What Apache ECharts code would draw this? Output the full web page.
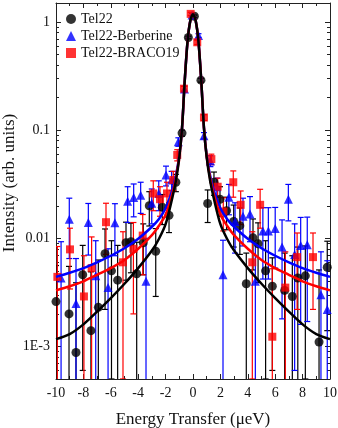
<!DOCTYPE html>
<html>
<head>
<meta charset="utf-8">
<script src="https://cdn.jsdelivr.net/npm/echarts@6/dist/echarts.min.js"></script>
<style>
  html, body { margin: 0; padding: 0; background: #fff; }
  #chart { width: 338px; height: 428px; }
</style>
</head>
<body>
<div id="chart"></div>
<script>
// Tel22 (black circles)
var tel22X = [-10.0, -9.05, -8.54, -8.05, -7.45, -6.91, -6.42, -5.95, -5.50, -4.89, -4.53, -4.11, -3.63, -3.19, -2.72, -2.24, -1.75, -1.25, -0.80, -0.34, 0.10, 0.58, 1.07, 1.53, 1.97, 2.45, 2.97, 3.42, 3.89, 4.38, 4.75, 5.30, 5.79, 6.69, 7.25, 7.65, 8.20, 9.20, 9.80];
var tel22Y = [0.0026, 0.0020, 0.00088, 0.0046, 0.0014, 0.0023, 0.0072, 0.0050, 0.0041, 0.0091, 0.0093, 0.0047, 0.0091, 0.020, 0.0076, 0.0194, 0.0163, 0.033, 0.094, 0.72, 1.13, 0.29, 0.021, 0.033, 0.023, 0.018, 0.0143, 0.0131, 0.0038, 0.0101, 0.0089, 0.0050, 0.0036, 0.0033, 0.0029, 0.0043, 0.0045, 0.0011, 0.0054];
var tel22Err = [0.0030, 0.0035, 0.0030, 0.0040, 0.0035, 0.0040, 0.0050, 0.0045, 0.0045, 0.0050, 0.0045, 0.0045, 0.0045, 0.0070, 0.0047, 0.0060, 0.0050, 0.0060, 0.0060, 0.020, 0.030, 0.012, 0.0070, 0.0080, 0.0070, 0.0060, 0.0060, 0.0060, 0.0035, 0.0050, 0.0050, 0.0045, 0.0030, 0.0040, 0.0040, 0.0040, 0.0040, 0.0040, 0.0040];

// Tel22-Berberine (blue triangles)
var berX = [-9.63, -9.03, -8.54, -7.64, -7.10, -6.20, -5.70, -4.77, -4.33, -3.82, -3.43, -3.01, -2.50, -1.97, -1.56, -1.07, -0.62, -0.07, 0.40, 0.80, 1.27, 1.74, 2.19, 2.62, 3.07, 3.65, 4.16, 4.55, 5.10, 5.50, 6.00, 6.50, 6.96, 7.42, 7.86, 8.34, 9.34, 9.80];
var berY = [0.0043, 0.015, 0.0025, 0.014, 0.0045, 0.0035, 0.0139, 0.0220, 0.0238, 0.0250, 0.0040, 0.0211, 0.026, 0.0385, 0.0346, 0.078, 0.24, 1.16, 0.75, 0.089, 0.052, 0.030, 0.0046, 0.024, 0.0143, 0.016, 0.0168, 0.0040, 0.0117, 0.0117, 0.0123, 0.0083, 0.023, 0.0071, 0.0086, 0.0087, 0.0030, 0.0022];
var berErr = [0.0050, 0.0085, 0.0040, 0.0070, 0.0050, 0.0045, 0.0070, 0.0080, 0.0080, 0.0080, 0.0060, 0.0075, 0.0080, 0.0080, 0.0070, 0.0070, 0.015, 0.04, 0.03, 0.006, 0.0060, 0.0060, 0.0050, 0.0075, 0.0070, 0.0075, 0.0075, 0.0050, 0.0075, 0.0075, 0.0070, 0.0065, 0.0085, 0.0065, 0.0070, 0.0070, 0.0045, 0.0040];

// Tel22-BRACO19 (red squares)
var braX = [-9.90, -8.98, -7.96, -7.40, -6.35, -5.11, -4.35, -3.67, -2.90, -2.41, -1.90, -1.44, -1.15, -0.66, -0.17, 0.31, 0.80, 1.34, 1.80, 2.21, 2.94, 3.48, 4.33, 4.90, 5.79, 6.74, 7.60, 8.76];
var braY = [0.0044, 0.0079, 0.0029, 0.0053, 0.0141, 0.0060, 0.0080, 0.0106, 0.026, 0.023, 0.026, 0.0346, 0.059, 0.242, 1.19, 0.65, 0.131, 0.054, 0.030, 0.0177, 0.033, 0.0204, 0.0060, 0.0204, 0.00123, 0.0035, 0.0067, 0.0067];
var braErr = [0.0040, 0.0045, 0.0040, 0.0050, 0.0070, 0.0055, 0.0060, 0.0060, 0.0080, 0.0070, 0.0070, 0.0070, 0.0070, 0.012, 0.04, 0.03, 0.008, 0.0060, 0.0060, 0.0060, 0.0090, 0.0070, 0.0055, 0.0080, 0.0040, 0.0040, 0.0045, 0.0045];

// fitted curves
var fitX = [-10, -9, -8, -7, -6, -5, -4, -3, -2.5, -2, -1.5, -1.25, -1, -0.8, -0.6, -0.4, -0.2, 0, 0.2, 0.4, 0.6, 0.8, 1, 1.25, 1.5, 2, 2.5, 3, 4, 5, 6, 7, 8, 9, 10];
var fitTel22 = [0.00117, 0.0013, 0.0016, 0.0021, 0.0028, 0.0038, 0.0053, 0.0077, 0.0098, 0.0135, 0.024, 0.034, 0.056, 0.105, 0.29, 0.66, 1.02, 1.18, 1.02, 0.66, 0.29, 0.105, 0.056, 0.034, 0.024, 0.0135, 0.0098, 0.0077, 0.0053, 0.0038, 0.0028, 0.0021, 0.0016, 0.0013, 0.00117];
var fitBer = [0.0044, 0.0048, 0.0053, 0.0060, 0.0069, 0.0081, 0.0099, 0.0128, 0.015, 0.019, 0.028, 0.038, 0.058, 0.105, 0.29, 0.66, 1.02, 1.18, 1.02, 0.66, 0.29, 0.105, 0.058, 0.038, 0.028, 0.019, 0.015, 0.0128, 0.0099, 0.0081, 0.0069, 0.0060, 0.0053, 0.0048, 0.0044];
var fitBra = [0.0033, 0.0036, 0.0040, 0.0046, 0.0053, 0.0063, 0.0080, 0.0107, 0.013, 0.0165, 0.026, 0.036, 0.057, 0.105, 0.29, 0.66, 1.02, 1.18, 1.02, 0.66, 0.29, 0.105, 0.057, 0.036, 0.026, 0.0165, 0.013, 0.0107, 0.0080, 0.0063, 0.0053, 0.0046, 0.0040, 0.0036, 0.0033];

var xTicks = { min: -10, max: 10, interval: 2 };
var yRange = { min: 0.0005, max: 1.5 };

var FONT = '"Liberation Serif", "DejaVu Serif", serif';
var FRAME = '#222';

function pairs(xs, ys) {
    return xs.map(function (x, i) { return [x, ys[i]]; });
}

function errorBars(xs, ys, es, color) {
    return {
        type: 'custom',
        clip: true,
        z: 2,
        silent: true,
        data: xs.map(function (x, i) {
            return [x, ys[i], Math.max(ys[i] - es[i], 1e-6), ys[i] + es[i]];
        }),
        encode: { x: 0, y: [1, 2, 3] },
        renderItem: function (params, api) {
            var top = api.coord([api.value(0), api.value(3)]);
            var bot = api.coord([api.value(0), api.value(2)]);
            var w = 3;
            var st = { stroke: color, lineWidth: 1.2 };
            return {
                type: 'group',
                children: [
                    { type: 'line', shape: { x1: top[0], y1: top[1], x2: bot[0], y2: bot[1] }, style: st },
                    { type: 'line', shape: { x1: top[0] - w, y1: top[1], x2: top[0] + w, y2: top[1] }, style: st },
                    { type: 'line', shape: { x1: bot[0] - w, y1: bot[1], x2: bot[0] + w, y2: bot[1] }, style: st }
                ]
            };
        }
    };
}

function yLabel(v) {
    var p = Math.round(Math.log10(v));
    if (Math.abs(Math.log10(v) - p) > 1e-6) return '';
    if (p === 0) return '1';
    if (p === -1) return '0.1';
    if (p === -2) return '0.01';
    return '1E' + p;
}

function frameAxis(extra) {
    var base = {
        axisLine: { show: true, onZero: false, lineStyle: { color: FRAME, width: 1 } },
        axisTick: { show: true, inside: true, length: 5, lineStyle: { color: FRAME } },
        minorTick: { show: true, splitNumber: 2, length: 3, lineStyle: { color: FRAME } },
        splitLine: { show: false },
        nameMoveOverlap: false
    };
    return Object.assign(base, extra);
}

var myChart = echarts.init(document.getElementById('chart'));
var option = {
    animation: false,
    backgroundColor: '#fff',
    textStyle: { fontFamily: FONT },
    grid: { left: 56, right: 8, top: 3, bottom: 49, show: false, outerBoundsMode: 'none' },
    legend: {
        orient: 'vertical',
        left: 61,
        top: 7,
        itemWidth: 10,
        itemHeight: 10,
        itemGap: 3,
        textStyle: { fontFamily: FONT, fontSize: 14, color: '#111' },
        data: [
            { name: 'Tel22', icon: 'circle' },
            { name: 'Tel22-Berberine', icon: 'triangle' },
            { name: 'Tel22-BRACO19', icon: 'rect' }
        ]
    },
    xAxis: [frameAxis({
        type: 'value',
        min: xTicks.min, max: xTicks.max, interval: xTicks.interval,
        name: 'Energy Transfer (\u03bceV)',
        nameLocation: 'middle',
        nameGap: 32,
        nameTextStyle: { fontFamily: FONT, fontSize: 17, color: '#111' },
        axisLabel: { fontFamily: FONT, fontSize: 14, color: '#111', margin: 7 }
    }), frameAxis({
        type: 'value',
        position: 'top',
        min: xTicks.min, max: xTicks.max, interval: xTicks.interval,
        axisLabel: { show: false }
    })],
    yAxis: [frameAxis({
        type: 'log',
        logBase: 10,
        min: yRange.min, max: yRange.max,
        name: 'Intensity (arb. units)',
        nameLocation: 'middle',
        nameGap: 38,
        nameTextStyle: { fontFamily: FONT, fontSize: 17, color: '#111', padding: [0, 0, 0, 16] },
        minorTick: { show: true, splitNumber: 9, length: 3, lineStyle: { color: FRAME } },
        axisLabel: { fontFamily: FONT, fontSize: 14, color: '#111', margin: 6, showMinLabel: false, showMaxLabel: false, formatter: yLabel }
    }), frameAxis({
        type: 'log',
        logBase: 10,
        position: 'right',
        min: yRange.min, max: yRange.max,
        minorTick: { show: true, splitNumber: 9, length: 3, lineStyle: { color: FRAME } },
        axisLabel: { show: false }
    })],
    series: [
        errorBars(tel22X, tel22Y, tel22Err, '#000'),
        errorBars(berX, berY, berErr, '#0000ff'),
        errorBars(braX, braY, braErr, '#ff0000'),
        {
            name: 'Tel22', type: 'scatter', symbol: 'circle', symbolSize: 9, z: 3,
            itemStyle: { color: '#000' }, data: pairs(tel22X, tel22Y)
        },
        {
            name: 'Tel22-Berberine', type: 'scatter', symbol: 'triangle', symbolSize: 9, z: 3,
            itemStyle: { color: '#0000ff' }, data: pairs(berX, berY)
        },
        {
            name: 'Tel22-BRACO19', type: 'scatter', symbol: 'rect', symbolSize: 8, z: 3,
            itemStyle: { color: '#ff0000' }, data: pairs(braX, braY)
        },
        {
            type: 'line', smooth: 0.3, symbol: 'none', z: 4, silent: true,
            lineStyle: { color: '#0000ff', width: 2.5 }, data: pairs(fitX, fitBer)
        },
        {
            type: 'line', smooth: 0.3, symbol: 'none', z: 4, silent: true,
            lineStyle: { color: '#ff0000', width: 2.5 }, data: pairs(fitX, fitBra)
        },
        {
            type: 'line', smooth: 0.3, symbol: 'none', z: 5, silent: true,
            lineStyle: { color: '#000', width: 2.5 }, data: pairs(fitX, fitTel22)
        }
    ]
};
option && myChart.setOption(option);
window.onresize = function () {
    myChart.resize();
};
</script>
</body>
</html>
